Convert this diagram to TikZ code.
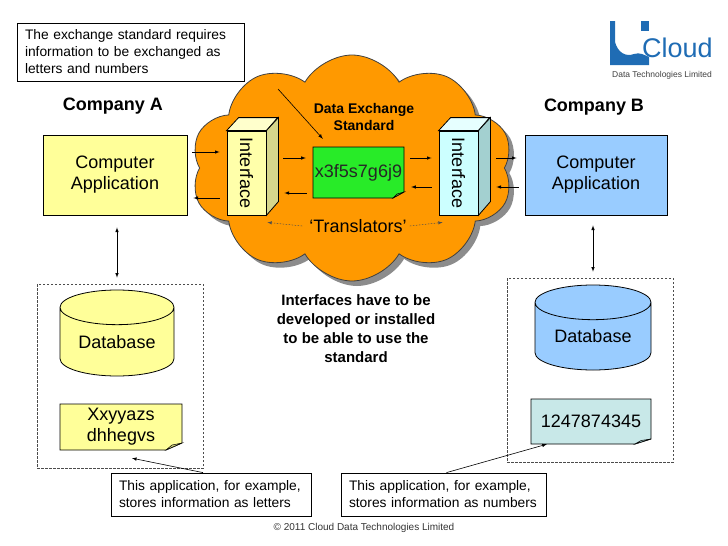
\documentclass[tikz,border=0pt]{standalone}
\usepackage{graphicx}
\usepackage{fontspec}
\setmainfont{Liberation Sans}
\usetikzlibrary{shapes.symbols,shapes.geometric,shadows}
\hyphenpenalty=10000

\definecolor{appyellow}{RGB}{255,255,153}
\definecolor{foldyellow}{RGB}{204,204,122}
\definecolor{appblue}{RGB}{153,204,255}
\definecolor{noteteal}{RGB}{200,232,232}
\definecolor{foldteal}{RGB}{150,190,190}
\definecolor{cloudorange}{RGB}{255,153,0}
\definecolor{stdgreen}{RGB}{40,235,40}
\definecolor{foldgreen}{RGB}{80,170,60}
\definecolor{ifyellow}{RGB}{255,255,170}
\definecolor{ifyellowtop}{RGB}{255,255,204}
\definecolor{ifyellowside}{RGB}{214,214,140}
\definecolor{ifcyan}{RGB}{204,255,255}
\definecolor{ifcyantop}{RGB}{230,255,255}
\definecolor{ifcyanside}{RGB}{163,208,208}
\definecolor{logoblue}{RGB}{31,108,180}

\begin{document}
\begin{tikzpicture}[x=1pt, y=-1pt,
    every node/.style={inner sep=0pt, font=\fontsize{18}{21}\selectfont},
    arr/.style={-latex, line width=0.6pt},
    appbox/.style={draw, line width=0.8pt, minimum width=144pt, minimum height=80pt, align=center},
    infobox/.style={draw, line width=0.8pt, fill=white, align=left, inner xsep=8pt, font=\fontsize{13.8}{17}\selectfont},
    ifface/.style={draw, line width=0.8pt, minimum width=39pt, minimum height=84pt},
    dbcyl/.style={cylinder, shape border rotate=90, aspect=0.45, draw, line width=0.8pt, minimum width=114pt, minimum height=86pt},
    dashbox/.style={draw=black!70, dash pattern=on 2.5pt off 1.5pt, line width=0.6pt, minimum width=166pt, minimum height=184pt},
    heading/.style={font=\bfseries\fontsize{18}{21}\selectfont}]
    \useasboundingbox (0,0) rectangle (728,546);

    % logo
    \fill[logoblue] (610,21) -- (615,21) -- (615,42) .. controls (618,53) and (626,57) .. (634,54)
        .. controls (640,52) and (644,55) .. (649,57) -- (649,65) -- (610,65) -- cycle;
    \fill[logoblue] (641,21) rectangle (649,31);
    \node[font=\fontsize{27}{27}\selectfont, text=logoblue, anchor=base west] (logoname) at (642,57) {Cloud};
    \node[font=\fontsize{8.5}{10}\selectfont, text=black!75] (logosub) at (662,75) {Data Technologies Limited};

    % cloud
    \node[cloud, cloud puffs=10, cloud puff arc=120, cloud ignores aspect, minimum width=322pt, minimum height=226pt,
        fill=cloudorange, draw=black!75, line width=0.8pt,
        drop shadow={shadow xshift=5pt, shadow yshift=-5pt, fill=black!45, opacity=1}] (cloud) at (352,168) {};

    \node[infobox, text width=211pt, minimum height=58pt] (reqbox) at (130.5,52)
        {The exchange standard requires\\information to be exchanged as\\letters and numbers};
    \node[heading] (compA) at (113,106) {Company A};
    \node[heading] (compB) at (594,107) {Company B};

    \node[appbox, fill=appyellow] (appA) at (115,175) {Computer\\Application};
    \node[appbox, fill=appblue, minimum width=142pt] (appB) at (596,175) {Computer\\Application};

    % interfaces
    \node[ifface, fill=ifyellow] (ifA) at (246.5,173) {\rotatebox{-90}{Interface}};
    \filldraw[fill=ifyellowtop, line width=0.8pt] (ifA.north west) -- ++(12,-13) -- ++(39,0) -- (ifA.north east) -- cycle;
    \filldraw[fill=ifyellowside, line width=0.8pt] (ifA.north east) -- ++(12,-13) -- ++(0,84) -- (ifA.south east) -- cycle;
    \node[ifface, fill=ifcyan] (ifB) at (458.5,173) {\rotatebox{-90}{Interface}};
    \filldraw[fill=ifcyantop, line width=0.8pt] (ifB.north west) -- ++(12,-13) -- ++(39,0) -- (ifB.north east) -- cycle;
    \filldraw[fill=ifcyanside, line width=0.8pt] (ifB.north east) -- ++(12,-13) -- ++(0,84) -- (ifB.south east) -- cycle;

    % standard
    \node[font=\bfseries\fontsize{14}{17}\selectfont, align=center] (stdlabel) at (364,117) {Data Exchange\\Standard};
    \filldraw[fill=stdgreen, line width=0.8pt] (313,147) -- (404,147) -- (404,192) -- (393,198) -- (313,198) -- cycle;
    \filldraw[fill=foldgreen, line width=0.5pt] (404,192) -- (393,198) -- (397,194) -- cycle;
    \node[text=black!85, minimum width=91pt, minimum height=51pt] (stdcode) at (358.5,172.5) {x3f5s7g6j9};
    \node (transl) at (358,226) {‘Translators’};

    \coordinate (reqtip) at (278,89);
    \draw[arr] (reqtip) -- ([shift={(10pt,8pt)}]stdcode.north west);

    \draw[arr] ([shift={(5pt,23pt)}]appA.east) -- ([shift={(-7pt,21pt)}]ifA.west);
    \draw[arr] ([shift={(-7pt,-25pt)}]ifA.west) -- ([shift={(6pt,-23pt)}]appA.east);
    \draw[arr] ([shift={(17pt,15pt)}]ifA.east) -- ([shift={(-7pt,14.5pt)}]stdcode.west);
    \draw[arr] ([shift={(-6pt,-20.5pt)}]stdcode.west) -- ([shift={(18pt,-20pt)}]ifA.east);
    \draw[arr] ([shift={(6pt,14.5pt)}]stdcode.east) -- ([shift={(-7pt,15pt)}]ifB.west);
    \draw[arr] ([shift={(-7pt,-14pt)}]ifB.west) -- ([shift={(7pt,-14.5pt)}]stdcode.east);
    \draw[arr] ([shift={(18pt,15pt)}]ifB.east) -- ([shift={(-8pt,17pt)}]appB.west);
    \draw[arr] ([shift={(-6pt,-12pt)}]appB.west) -- ([shift={(18pt,-14pt)}]ifB.east);
    \draw[arr, black!70, line width=0.5pt, dash pattern=on 1.5pt off 1.5pt] ([xshift=-7pt]transl.west) -- ([shift={(1pt,-7pt)}]ifA.south east);
    \draw[arr, black!70, line width=0.5pt, dash pattern=on 1.5pt off 1.5pt] ([xshift=3pt]transl.east) -- ([shift={(4pt,-7pt)}]ifB.south west);

    % storage
    \node[dashbox] (storeA) at (120,376) {};
    \node[dashbox] (storeB) at (590,370) {};
    \node[dbcyl, fill=appyellow, anchor=shape center] (dbA) at (117,333) {Database};
    \node[dbcyl, fill=appblue, anchor=shape center, minimum width=116pt, minimum height=85pt] (dbB) at (593,327.5) {Database};
    \draw[latex-latex, line width=0.6pt] ([shift={(2pt,-12pt)}]appA.south) -- ([shift={(-3pt,6pt)}]storeA.north);
    \draw[latex-latex, line width=0.6pt] ([shift={(-3pt,-10pt)}]appB.south) -- ([shift={(3pt,6pt)}]storeB.north);

    \filldraw[fill=appyellow, line width=0.8pt] (60,404) -- (182,404) -- (182,443) -- (166,450) -- (60,450) -- cycle;
    \filldraw[fill=foldyellow, line width=0.5pt] (182,443) -- (166,450) -- (172,445) -- cycle;
    \node[align=center, minimum width=122pt, minimum height=46pt] (noteA) at (121,427) {Xxyyazs\\dhhegvs};
    \filldraw[fill=noteteal, line width=0.8pt] (531,399) -- (651,399) -- (651,439) -- (635,444) -- (531,444) -- cycle;
    \filldraw[fill=foldteal, line width=0.5pt] (651,439) -- (635,444) -- (641,440.5) -- cycle;
    \node[minimum width=120pt, minimum height=45pt] (noteB) at (591,421.5) {1247874345};

    % callouts
    \node[infobox, text width=184pt, minimum height=43pt] (letA) at (211,494.5)
        {This application, for example,\\stores information as letters};
    \node[infobox, text width=189pt, minimum height=43pt] (numB) at (443.5,494.5)
        {This application, for example,\\stores information as numbers};
    \draw[arr] ([xshift=-8pt]letA.north) -- ([shift={(11pt,-8pt)}]noteA.south);
    \draw[arr] ([xshift=3pt]numB.north) -- ([xshift=16pt]noteB.south west);

    \node[font=\bfseries\fontsize{15}{19}\selectfont, align=center] (needtext) at (356,329)
        {Interfaces have to be\\developed or installed\\to be able to use the\\standard};
    \node[font=\fontsize{10}{12}\selectfont, text=black!80] (copyr) at (364,528) {© 2011 Cloud Data Technologies Limited};
\end{tikzpicture}
\end{document}
